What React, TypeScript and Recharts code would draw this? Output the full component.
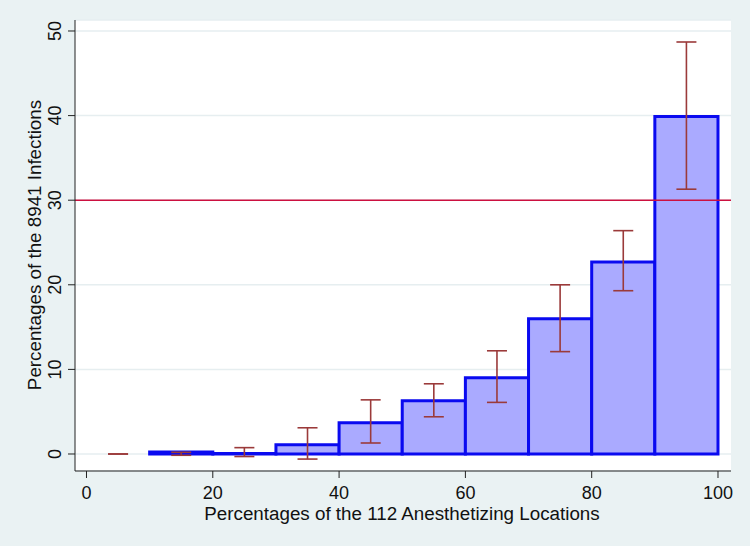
import React from 'react';
import {
  ComposedChart,
  XAxis,
  YAxis,
  CartesianGrid,
  ReferenceArea,
  ReferenceLine,
  Scatter,
  ErrorBar,
  Label,
} from 'recharts';

// histogram bins (left edge, width 10) and bar heights
const binStart = [10, 20, 30, 40, 50, 60, 70, 80, 90];
const binValue = [0.25, 0.05, 1.1, 3.7, 6.3, 9.0, 16.0, 22.7, 39.9];

// confidence intervals at bin midpoints
const ciMid = [5, 15, 25, 35, 45, 55, 65, 75, 85, 95];
const ciLow = [0, -0.15, -0.3, -0.6, 1.3, 4.4, 6.1, 12.1, 19.3, 31.3];
const ciHigh = [0, 0.2, 0.75, 3.1, 6.4, 8.3, 12.2, 20.0, 26.4, 48.7];

const xTicks = [0, 20, 40, 60, 80, 100];
const yTicks = [0, 10, 20, 30, 40, 50];
const threshold = 30;

const FONT = '"Liberation Sans", Arial, sans-serif';

const ciData = ciMid.map((x, i) => ({
  x,
  y: (ciLow[i] + ciHigh[i]) / 2,
  err: [(ciHigh[i] - ciLow[i]) / 2, (ciHigh[i] - ciLow[i]) / 2],
}));

const YTick = (props: any) => {
  const { x, y, payload } = props;
  const tx = x - 4.5;
  return (
    <text
      x={tx}
      y={y}
      transform={`rotate(-90, ${tx}, ${y})`}
      textAnchor="middle"
      fontFamily={FONT}
      fontSize={18}
      fill="#111"
    >
      {payload.value}
    </text>
  );
};

const XTick = (props: any) => {
  const { x, y, payload } = props;
  return (
    <text x={x} y={y + 19} textAnchor="middle" fontFamily={FONT} fontSize={18} fill="#111">
      {payload.value}
    </text>
  );
};

const App: React.FC = () => {
  return (
    <div style={{ position: 'absolute', left: 0, top: 0, width: 750, height: 546, background: '#eaf2f3' }}>
      <ComposedChart
        width={750}
        height={546}
        data={ciData}
        margin={{ top: 20, right: 19, bottom: 0, left: 0 }}
      >
        <CartesianGrid vertical={false} horizontal fill="#ffffff" stroke="#e6eef0" strokeWidth={1.5} />
        <XAxis
          type="number"
          dataKey="x"
          domain={[-1.82, 102.06]}
          allowDataOverflow
          ticks={xTicks}
          height={75}
          tickSize={7}
          tick={<XTick />}
          stroke="#222"
          axisLine={{ stroke: '#222' }}
          tickLine={{ stroke: '#222' }}
        >
          <Label
            content={() => (
              <text x={402} y={520} textAnchor="middle" fontFamily={FONT} fontSize={18.8} fill="#111">
                Percentages of the 112 Anesthetizing Locations
              </text>
            )}
          />
        </XAxis>
        <YAxis
          type="number"
          domain={[-2.01, 51.3]}
          allowDataOverflow
          ticks={yTicks}
          width={75}
          tickSize={7}
          tick={<YTick />}
          axisLine={{ stroke: '#222' }}
          tickLine={{ stroke: '#222' }}
        >
          <Label
            content={() => (
              <text
                x={41}
                y={245}
                transform="rotate(-90, 41, 245)"
                textAnchor="middle"
                fontFamily={FONT}
                fontSize={18.8}
                fill="#111"
              >
                Percentages of the 8941 Infections
              </text>
            )}
          />
        </YAxis>
        {binStart.map((x0, i) => (
          <ReferenceArea
            key={x0}
            x1={x0}
            x2={x0 + 10}
            y1={0}
            y2={binValue[i]}
            fill="#aaaaff"
            fillOpacity={1}
            stroke="#0a0af0"
            strokeWidth={3}
            strokeOpacity={1}
            ifOverflow="visible"
          />
        ))}
        <ReferenceLine y={threshold} stroke="#cc1040" strokeWidth={1.5} />
        <Scatter dataKey="y" shape={() => <g />} isAnimationActive={false}>
          <ErrorBar dataKey="err" direction="y" width={10} stroke="#9b3a3a" strokeWidth={1.6} isAnimationActive={false} />
        </Scatter>
      </ComposedChart>
    </div>
  );
};

export default App;
